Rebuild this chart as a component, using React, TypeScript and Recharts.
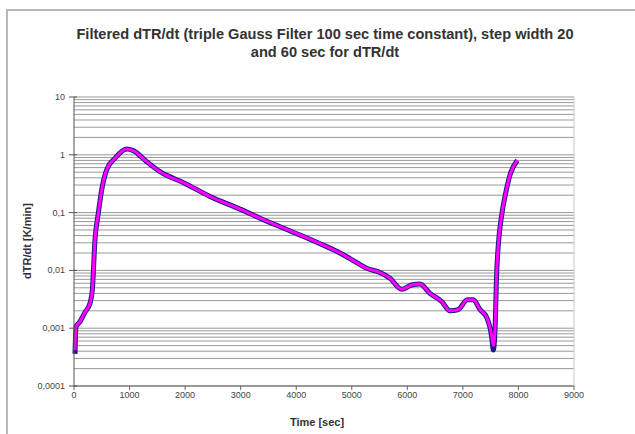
import { LineChart, Line, XAxis, YAxis, CartesianGrid, ReferenceLine } from "recharts";

// time [sec]
const timeSec = [
  18, 36, 108, 200, 288, 330, 378, 438, 498, 588, 738, 948, 1068, 1308, 1548, 1998,
  2448, 2988, 3348, 3708, 4068, 4428, 4788, 4968, 5268, 5508, 5688, 5898, 6078, 6228,
  6408, 6618, 6768, 6918, 7080, 7188, 7308, 7428, 7518, 7548, 7578, 7608, 7638, 7698,
  7758, 7848, 7980,
];

// dTR/dt step width 20 sec (dark blue)
const dtr20 = [
  0.00036, 0.00105, 0.0013, 0.0019, 0.0027, 0.0046, 0.034, 0.098, 0.246, 0.55, 0.87, 1.26,
  1.18, 0.76, 0.51, 0.32, 0.19, 0.115, 0.08, 0.057, 0.041, 0.029, 0.02, 0.016, 0.0109,
  0.0092, 0.0073, 0.0047, 0.0056, 0.0058, 0.004, 0.0029, 0.002, 0.0021, 0.0031, 0.0031,
  0.0021, 0.00155, 0.00071, 0.00042, 0.00093, 0.009, 0.028, 0.09, 0.19, 0.45, 0.8,
];

// dTR/dt step width 60 sec (magenta)
const dtr60 = [
  0.00042, 0.00105, 0.0013, 0.0019, 0.0027, 0.0046, 0.034, 0.098, 0.246, 0.55, 0.87, 1.26,
  1.18, 0.76, 0.51, 0.32, 0.19, 0.115, 0.08, 0.057, 0.041, 0.029, 0.02, 0.016, 0.0109,
  0.0092, 0.0073, 0.0047, 0.0056, 0.0058, 0.004, 0.0029, 0.002, 0.0021, 0.0031, 0.0031,
  0.0021, 0.00155, 0.00075, 0.0005, 0.00093, 0.009, 0.028, 0.09, 0.19, 0.45, 0.8,
];

const xTicks = [0, 1000, 2000, 3000, 4000, 5000, 6000, 7000, 8000, 9000];
const yDecades = [0.0001, 0.001, 0.01, 0.1, 1, 10];
const yDecadeLabels = ["0,0001", "0,001", "0,01", "0,1", "1", "10"];

// log grid: 1..9 within each decade
const yGridTicks: number[] = [];
yDecades.forEach((d, i) => {
  if (i === yDecades.length - 1) {
    yGridTicks.push(d);
    return;
  }
  for (let m = 1; m <= 9; m++) yGridTicks.push(+(d * m).toPrecision(3));
});

const data = timeSec.map((t, i) => ({ t, a: dtr20[i], b: dtr60[i] }));

const font = "'Liberation Sans', Arial, sans-serif";

const YTick = ({ x, y, payload }: any) => {
  const idx = yDecades.findIndex((d) => Math.abs(d - payload.value) < d * 1e-6);
  if (idx < 0) return null;
  return (
    <g>
      <line x1={x + 3} x2={x + 11} y1={y} y2={y} stroke="#555" />
      <text x={x - 1} y={y} dy={3} textAnchor="end" fontSize={9} fill="#444" fontFamily={font}>
        {yDecadeLabels[idx]}
      </text>
    </g>
  );
};

export default function App() {
  return (
    <div style={{ position: "absolute", left: 0, top: 0, width: 635, height: 434, overflow: "hidden", background: "#fff" }}>
      <div
        style={{
          position: "absolute",
          left: 6,
          top: 9,
          width: 700,
          height: 500,
          border: "2px solid #b8b8b8",
        }}
      />
      <div
        style={{
          position: "absolute",
          left: 0,
          top: 25,
          width: 650,
          textAlign: "center",
          fontFamily: font,
          fontWeight: "bold",
          fontSize: 14.6,
          lineHeight: "18px",
          color: "#333",
        }}
      >
        Filtered dTR/dt (triple Gauss Filter 100 sec time constant), step width 20
        <br />
        and 60 sec for dTR/dt
      </div>
      <div
        style={{
          position: "absolute",
          left: 27,
          top: 241,
          transform: "translate(-50%, -50%) rotate(-90deg)",
          fontFamily: font,
          fontWeight: "bold",
          fontSize: 11,
          whiteSpace: "nowrap",
          color: "#333",
        }}
      >
        dTR/dt [K/min]
      </div>
      <div
        style={{
          position: "absolute",
          left: 317,
          top: 422,
          transform: "translate(-50%, -50%)",
          fontFamily: font,
          fontWeight: "bold",
          fontSize: 11,
          whiteSpace: "nowrap",
          color: "#333",
        }}
      >
        Time [sec]
      </div>
      <div style={{ position: "absolute", left: 0, top: 0 }}>
        <LineChart width={635} height={434} data={data} margin={{ top: 97, right: 61, bottom: 18, left: 8 }}>
          <CartesianGrid vertical={false} stroke="#999" />
          <ReferenceLine x={9000} stroke="#c8c8c8" />
          <XAxis
            dataKey="t"
            type="number"
            domain={[0, 9000]}
            ticks={xTicks}
            height={30}
            interval={0}
            axisLine={{ stroke: "#666" }}
            tickLine={{ stroke: "#666" }}
            tickSize={4}
            tick={{ fontSize: 9, fill: "#444", fontFamily: font }}
          />
          <YAxis
            scale="log"
            type="number"
            domain={[0.0001, 10]}
            allowDataOverflow
            ticks={yGridTicks}
            interval={0}
            width={66}
            axisLine={{ stroke: "#555" }}
            tickLine={false}
            tick={<YTick />}
          />
          <Line
            dataKey="a"
            type="monotone"
            stroke="#1a1a80"
            strokeWidth={5}
            dot={false}
            isAnimationActive={false}
          />
          <Line
            dataKey="b"
            type="monotone"
            stroke="#ff00ff"
            strokeWidth={3}
            dot={false}
            isAnimationActive={false}
          />
        </LineChart>
      </div>
    </div>
  );
}
